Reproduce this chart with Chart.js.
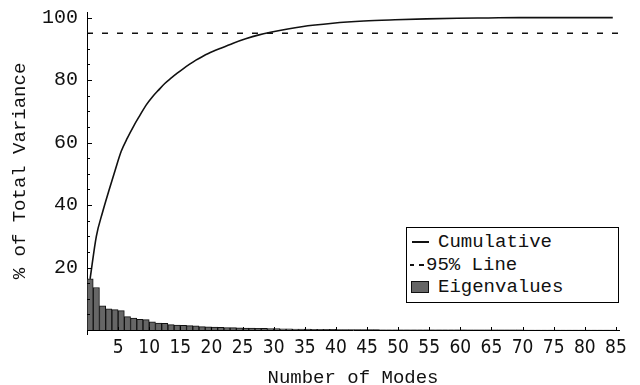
<!DOCTYPE html>
<html>
<head>
  <title>Variance by Mode</title>
  <script src="https://cdn.jsdelivr.net/npm/chart.js"></script>
  <style>
    body { margin: 0; background: #fff; }
    .wrap { position: relative; width: 640px; height: 385px; }
    /* legend box drawn inside the plot, bottom right */
    .legend {
        position: absolute; left: 406px; top: 227px; width: 211px; height: 74px;
        border: 1px solid #000; background: #fff;
        font-family: 'Liberation Mono', 'DejaVu Sans Mono', monospace; font-size: 19px; color: #111;
    }
    .legend .row { position: absolute; left: 31px; height: 22px; line-height: 22px; white-space: pre; }
    .legend .sym { position: absolute; background: #111; }
  </style>
</head>
<body>
<div class="wrap">
  <canvas id="chart" width="640" height="385"></canvas>
  <div class="legend">
    <span class="sym" style="left:5px; top:13px; width:17px; height:2px;"></span>
    <div class="row" style="top:3px;">Cumulative</div>
    <span class="sym" style="left:3px; top:36px; width:4px; height:2px;"></span>
    <span class="sym" style="left:12px; top:36px; width:5px; height:2px;"></span>
    <div class="row" style="top:26px; left:19px;">95% Line</div>
    <span class="sym" style="left:4px; top:53px; width:16px; height:10px; background:#666; border:1px solid #111;"></span>
    <div class="row" style="top:48px;">Eigenvalues</div>
  </div>
</div>

<script>
  // eigenvalue (% of variance) for modes 1..85
  const eigenvalues = [
      16.4, 13.6, 7.7, 6.8, 6.5, 6.2, 4.3, 3.8, 3.4, 3.3,
      2.6, 2.2, 2.1, 1.7, 1.6, 1.5, 1.4, 1.3, 1.1, 1.0,
      0.9, 0.85, 0.8, 0.75, 0.7, 0.65, 0.6, 0.55, 0.5, 0.45,
      0.42, 0.38, 0.35, 0.32, 0.29, 0.26, 0.24, 0.22, 0.2, 0.18,
      0.17, 0.16, 0.14, 0.13, 0.12, 0.11, 0.1, 0.09, 0.08, 0.07,
      0.06, 0.06, 0.05, 0.05, 0.04, 0.04, 0.04, 0.03, 0.03, 0.03,
      0.03, 0.02, 0.02, 0.02, 0.02, 0.02, 0.02, 0.02, 0.02, 0.02,
      0.01, 0.01, 0.01, 0.01, 0.01, 0.01, 0.01, 0.01, 0.01, 0.01,
      0.01, 0.01, 0.01, 0.01, 0.01
  ];

  // cumulative curve
  const cumModes = [1, 2, 3, 4, 5, 6, 7, 8, 9, 10, 11, 12, 13, 14, 15, 16, 17, 18, 19, 20,
                    22, 24, 26, 28, 30, 35, 40, 45, 50, 55, 60, 65, 70, 75, 80, 85];
  const cumulative = [16.4, 30, 37.7, 44.5, 51, 57.2, 61.5, 65.3, 68.7, 72, 74.6, 76.8, 78.9, 80.6,
                      82.2, 83.7, 85.1, 86.4, 87.5, 88.5, 90.2, 91.8, 93.2, 94.4, 95.3, 97.1,
                      98.2, 98.9, 99.3, 99.6, 99.8, 99.9, 100, 100, 100, 100];

  const xTicks = [5, 10, 15, 20, 25, 30, 35, 40, 45, 50, 55, 60, 65, 70, 75, 80, 85];
  const yTicks = [5, 10, 15, 20, 25, 30, 35, 40, 45, 50, 55, 60, 65, 70, 75, 80, 85, 90, 95, 100];
  const yLabelled = [20, 40, 60, 80, 100];

  const threshold = 95;
  const xMax = 85.5;
  const yMax = 101.8;

  const mono = "'Liberation Mono', 'DejaVu Sans Mono', monospace";

  // small tick marks pointing into the plot, like the original
  const innerTicks = {
      id: 'innerTicks',
      afterDraw(chart) {
          const { ctx, chartArea: a, scales: { x, y } } = chart;
          ctx.save();
          ctx.strokeStyle = '#000';
          ctx.lineWidth = 1;
          ctx.beginPath();
          x.ticks.forEach(t => {
              const px = Math.round(x.getPixelForValue(t.value)) + 0.5;
              ctx.moveTo(px, a.bottom);
              ctx.lineTo(px, a.bottom - 3);
          });
          y.ticks.forEach(t => {
              const py = Math.round(y.getPixelForValue(t.value)) + 0.5;
              ctx.moveTo(a.left, py);
              ctx.lineTo(a.left + (yLabelled.includes(t.value) ? 5 : 3), py);
          });
          // y axis pokes a little below the x axis
          ctx.moveTo(Math.round(a.left) + 0.5, a.bottom);
          ctx.lineTo(Math.round(a.left) + 0.5, a.bottom + 5);
          ctx.stroke();
          ctx.restore();
      }
  };

  new Chart(document.getElementById('chart'), {
      data: {
          datasets: [
              {
                  type: 'line',
                  label: 'Cumulative',
                  data: cumModes.map((m, i) => ({ x: m - 0.5, y: cumulative[i] })),
                  borderColor: '#111',
                  borderWidth: 1.6,
                  pointRadius: 0,
                  cubicInterpolationMode: 'monotone',
                  order: 0
              },
              {
                  type: 'line',
                  label: '95% Line',
                  data: [{ x: 0, y: threshold }, { x: xMax, y: threshold }],
                  borderColor: '#111',
                  borderWidth: 1.5,
                  borderDash: [6, 9],
                  pointRadius: 0,
                  order: 0
              },
              {
                  type: 'bar',
                  label: 'Eigenvalues',
                  data: eigenvalues.map((v, i) => ({ x: i + 0.5, y: v })),
                  backgroundColor: '#666',
                  borderColor: '#111',
                  borderWidth: 1,
                  barPercentage: 1,
                  categoryPercentage: 1,
                  order: 1
              }
          ]
      },
      options: {
          responsive: false,
          animation: false,
          layout: { padding: { top: 12, right: 21, left: 0, bottom: 0 } },
          plugins: { legend: { display: false }, tooltip: { enabled: false } },
          scales: {
              x: {
                  type: 'linear',
                  min: 0,
                  max: xMax,
                  offset: false,
                  afterFit: s => { s.height = 55; s.paddingLeft = 0; s.paddingRight = 0; },
                  afterBuildTicks: s => { s.ticks = xTicks.map(v => ({ value: v })); },
                  grid: { display: false, drawTicks: false },
                  border: { display: true, color: '#000', width: 1 },
                  ticks: {
                      autoSkip: false,
                      maxRotation: 0,
                      padding: 7,
                      color: '#111',
                      font: { family: "'Liberation Sans Narrow', 'DejaVu Sans Condensed', sans-serif", size: 19 }
                  },
                  title: {
                      display: true,
                      text: 'Number of Modes',
                      color: '#111',
                      font: { family: mono, size: 19, lineHeight: 1 },
                      padding: { top: 0, bottom: -2 }
                  }
              },
              y: {
                  min: 0,
                  max: yMax,
                  afterFit: s => { s.width = 87; s.paddingTop = 0; s.paddingBottom = 0; },
                  afterBuildTicks: s => { s.ticks = yTicks.map(v => ({ value: v })); },
                  grid: { display: false, drawTicks: false },
                  border: { display: true, color: '#000', width: 1 },
                  ticks: {
                      autoSkip: false,
                      padding: 9,
                      color: '#111',
                      font: { family: mono, size: 20 },
                      callback: v => (yLabelled.includes(v) ? v : '')
                  },
                  title: {
                      display: true,
                      text: '% of Total Variance',
                      color: '#111',
                      font: { family: mono, size: 19, lineHeight: 1 },
                      padding: { top: 10, bottom: 0 }
                  }
              }
          }
      },
      plugins: [innerTicks]
  });
</script>
</body>
</html>
